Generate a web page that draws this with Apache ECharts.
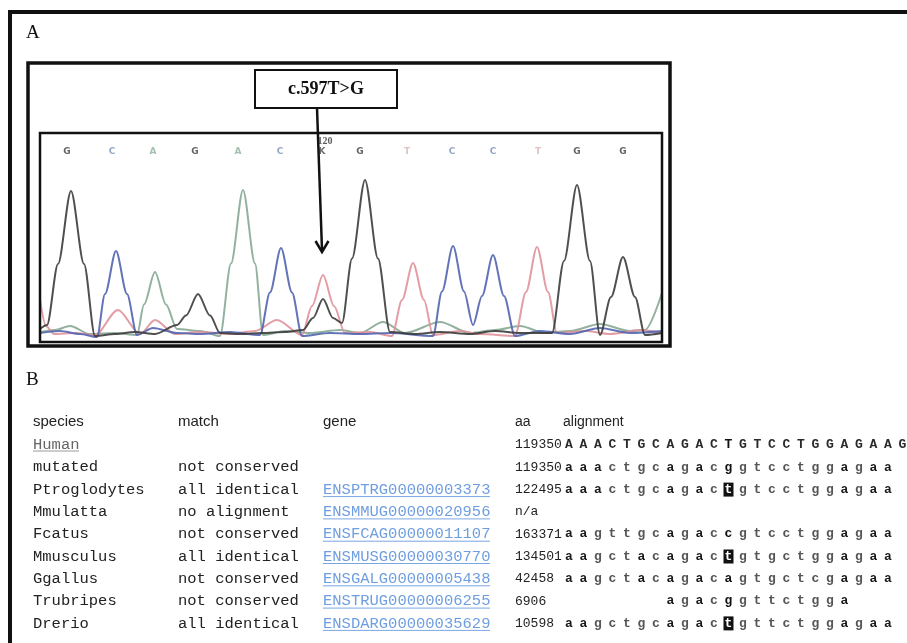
<!DOCTYPE html>
<html>
<head>
<meta charset="utf-8">
<title>c.597T>G chromatogram and conservation</title>
<script src="https://cdn.jsdelivr.net/npm/echarts@6/dist/echarts.min.js"></script>
<style>
  html, body { margin: 0; padding: 0; background: #fff; }
  #chart { width: 907px; height: 643px; }
</style>
</head>
<body>
<div id="chart"></div>
<script>
// ---- Panel A: sequencing trace (scan position, signal intensity) ----
const traceG = [[0,80],[7,120],[18,730],[31,1460],[44,730],[55,10],[75,30],[95,50],[115,30],[137,120],[146,215],[158,430],[170,215],[180,40],[200,30],[222,40],[245,50],[263,70],[273,190],[283,380],[293,190],[302,140],[312,785],[325,1570],[338,785],[350,50],[375,30],[400,50],[430,30],[455,60],[480,40],[512,40],[524,760],[537,1520],[550,760],[560,20],[571,400],[583,800],[595,400],[605,20],[622,40]];
const traceA = [[0,50],[15,70],[30,110],[50,30],[75,40],[97,20],[104,325],[115,650],[126,325],[137,80],[160,60],[180,10],[191,735],[203,1470],[215,735],[223,20],[245,60],[270,40],[300,70],[320,40],[343,150],[365,40],[400,150],[430,40],[455,70],[480,110],[505,40],[530,60],[560,130],[590,60],[605,70],[622,440]];
const traceT = [[0,370],[6,110],[14,30],[35,40],[55,20],[78,270],[100,30],[115,170],[135,30],[160,50],[190,30],[215,60],[237,170],[262,20],[272,310],[283,620],[294,310],[305,40],[330,50],[352,10],[362,370],[373,740],[384,370],[393,20],[420,60],[440,30],[475,10],[486,450],[497,900],[508,450],[517,40],[545,60],[570,30],[600,70],[622,40]];
const traceC = [[0,40],[20,60],[40,30],[57,0],[65,430],[76,860],[87,430],[97,20],[113,90],[137,40],[160,30],[190,50],[220,20],[230,445],[241,890],[252,445],[262,10],[290,40],[320,30],[350,40],[393,10],[402,455],[413,910],[424,455],[433,120],[442,410],[453,820],[464,410],[475,10],[500,60],[530,30],[560,90],[590,40],[622,60]];

const baseCalls    = ['G','C','A','G','A','C','K','G','T','C','C','T','G','G'];
const baseCallScan = [27, 72, 113, 155, 198, 240, 282, 320, 367, 412, 453, 498, 537, 583];
const baseNumber   = { scan: 285, text: '120' };
const mutationName = 'c.597T>G';

// ---- Panel B: conservation table ----
const tableHeader = ['species', 'match', 'gene', 'aa', 'alignment'];
const species     = ['Human','mutated','Ptroglodytes','Mmulatta','Fcatus','Mmusculus','Ggallus','Trubripes','Drerio'];
const matchStatus = ['','not conserved','all identical','no alignment','not conserved','all identical','not conserved','not conserved','all identical'];
const geneIds     = ['','','ENSPTRG00000003373','ENSMMUG00000020956','ENSFCAG00000011107','ENSMUSG00000030770','ENSGALG00000005438','ENSTRUG00000006255','ENSDARG00000035629'];
const aaPos       = ['119350','119350','122495','n/a','163371','134501','42458','6906','10598'];
const alignSeq    = ['AAACTGCAGACTGTCCTGGAGAAG','aaactgcagacggtcctggagaa','aaactgcagactgtcctggagaa','','aagttgcagaccgtcctggagaa','aagctacagactgtgctggagaa','aagctacagacagtgctcgagaa','agacggttctgga','aagctgcagactgttctggagaa'];
const alignOffset = [0,0,0,0,0,0,0,7,0];
const highlighted = [false,false,true,false,false,true,false,false,true];
const mutCol = 11;

const baseColor = { G: '#3a3a3a', C: '#7890b4', A: '#8fb09b', T: '#d6b4b4', K: '#4a4a4a' };

const chart = echarts.init(document.getElementById('chart'), null, { renderer: 'canvas' });

const MONO = '"Liberation Mono", "DejaVu Sans Mono", monospace';
const SANS = '"Liberation Sans", Arial, sans-serif';
const SERIF = '"Liberation Serif", "Times New Roman", serif';

const graphic = [];
function line(x1, y1, x2, y2, w, color) {
  graphic.push({ type: 'line', shape: { x1, y1, x2, y2 }, style: { stroke: color || '#111', lineWidth: w }, z: 10 });
}
function rect(x, y, w, h, lw) {
  graphic.push({ type: 'rect', shape: { x, y, width: w, height: h }, style: { fill: 'none', stroke: '#111', lineWidth: lw }, z: 10 });
}
function text(x, y, str, font, fill, align, z) {
  graphic.push({ type: 'text', z: z || 12, style: { x, y, text: str, font, fill, textAlign: align || 'left', textVerticalAlign: 'middle' } });
}

// outer figure frame (top and left edges)
line(8, 12, 907, 12, 4);
line(10, 10, 10, 643, 4);

// panel letters
text(26, 33, 'A', '19px ' + SERIF, '#111');
text(26, 380, 'B', '19px ' + SERIF, '#111');

// panel A frames
rect(28, 63, 642, 283, 3.5);
rect(40, 133, 622, 209, 2.5);

// mutation label and pointer arrow
graphic.push({ type: 'rect', shape: { x: 255, y: 70, width: 142, height: 38 }, style: { fill: '#fff', stroke: '#111', lineWidth: 2 }, z: 10 });
text(326, 89, mutationName, 'bold 18px ' + SERIF, '#111', 'center');
line(317, 108, 322, 250, 2.5);
graphic.push({ type: 'polyline', shape: { points: [[315.5, 241], [322, 252], [328.5, 241]] }, style: { stroke: '#111', lineWidth: 2.5, fill: 'none' }, z: 11 });

// panel B table
const col = { species: 33, match: 178, gene: 323, aa: 515, aln: 569 };
const headY = 422, rowY0 = 445, rowStep = 22.3, letterStep = 14.5;
text(col.species, headY, tableHeader[0], '15px ' + SANS, '#222');
text(col.match, headY, tableHeader[1], '15px ' + SANS, '#222');
text(col.gene, headY, tableHeader[2], '15px ' + SANS, '#222');
text(col.aa, headY, tableHeader[3], '14px ' + SANS, '#222');
text(col.aln - 6, headY, tableHeader[4], '14px ' + SANS, '#222');

species.forEach((sp, r) => {
  const y = rowY0 + r * rowStep;
  if (r === 0) {
    text(col.species, y, sp, '15.5px ' + MONO, '#666');
    line(col.species, y + 6, col.species + 46, y + 6, 1, '#999');
  } else {
    text(col.species, y, sp, '15.5px ' + MONO, '#222');
  }
  if (matchStatus[r]) text(col.match, y, matchStatus[r], '15.5px ' + MONO, '#222');
  if (geneIds[r]) {
    text(col.gene, y, geneIds[r], '15.5px ' + MONO, '#6f9ee0');
    line(col.gene, y + 7, col.gene + 167, y + 7, 1, '#7aa6e4');
  }
  text(col.aa, y, aaPos[r], '13px ' + MONO, '#222');
  const seq = alignSeq[r];
  for (let i = 0; i < seq.length; i++) {
    const idx = i + alignOffset[r];
    const x = col.aln + idx * letterStep;
    const ch = seq[i];
    let fill = ch === ch.toUpperCase() ? '#2a2a2a' : (ch === 'a' ? '#1a1a1a' : '#555');
    if (idx === mutCol) fill = '#111';
    if (highlighted[r] && idx === mutCol) {
      graphic.push({ type: 'rect', shape: { x: x - 5, y: y - 7, width: 10, height: 14 }, style: { fill: '#111' }, z: 11 });
      fill = '#fff';
    }
    text(x, y, ch, 'bold 13px ' + MONO, fill, 'center', 13);
  }
});

function traceSeries(name, data, color, width) {
  return {
    name, type: 'line', data, smooth: 0.3, smoothMonotone: 'x', symbol: 'none', silent: true,
    lineStyle: { color, width: width || 2, opacity: 0.9, join: 'round' }, z: 2
  };
}

const option = {
  animation: false,
  backgroundColor: '#fff',
  grid: { left: 40, top: 133, width: 622, height: 209, show: false },
  xAxis: { type: 'value', min: 0, max: 622, show: false },
  yAxis: { type: 'value', min: -50, max: 2040, show: false },
  series: [
    traceSeries('A', traceA, '#86a994'),
    traceSeries('T', traceT, '#e0929a'),
    traceSeries('C', traceC, '#5264b0'),
    traceSeries('G', traceG, '#3c3c3c'),
    {
      name: 'base calls', type: 'scatter', symbolSize: 0, silent: true, z: 5,
      data: baseCallScan.map((s, i) => ({
        value: [s, 1850],
        label: { show: true, position: 'inside', formatter: baseCalls[i], color: baseColor[baseCalls[i]],
                 fontSize: 9, fontWeight: 'bold', fontFamily: 'DejaVu Sans' }
      })).concat([{
        value: [baseNumber.scan, 1960],
        label: { show: true, position: 'inside', formatter: baseNumber.text, color: '#333',
                 fontSize: 10, fontWeight: 'bold', fontFamily: SERIF }
      }])
    }
  ],
  graphic
};
chart.setOption(option);
</script>
</body>
</html>
